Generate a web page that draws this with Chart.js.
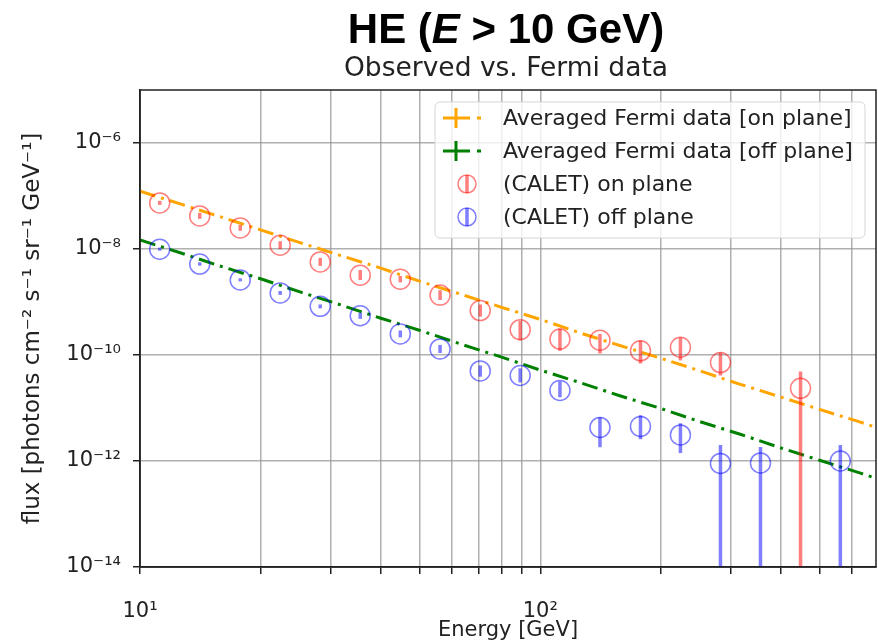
<!DOCTYPE html>
<html>
<head>
<meta charset="utf-8">
<script src="https://cdn.jsdelivr.net/npm/chart.js@4.4.0/dist/chart.umd.min.js"></script>
<style>
    html, body { margin: 0; padding: 0; background: #fff; }
    #wrap { width: 878px; height: 643px; }
</style>
</head>
<body>
<div id="wrap"><canvas id="fluxChart" width="878" height="643"></canvas></div>
<script>
// Averaged Fermi data (GeV, flux)
const fermiEnergy = [10, 12.6, 15.8, 20, 25.1, 31.6, 39.8, 50.1, 63.1, 79.4, 100, 126, 158, 200, 251, 316, 398, 501, 631, 794];
const fermiOnFlux = [1.23e-7, 7.1e-8, 4.1e-8, 2.3e-8, 1.32e-8, 7.6e-9, 4.4e-9, 2.45e-9, 1.41e-9, 8.1e-10, 4.7e-10, 2.6e-10, 1.51e-10, 8.7e-11, 5.0e-11, 2.8e-11, 1.62e-11, 9.3e-12, 5.4e-12, 3.0e-12];
const fermiOffFlux = [1.48e-8, 8.5e-9, 4.8e-9, 2.75e-9, 1.55e-9, 8.9e-10, 5.0e-10, 2.9e-10, 1.62e-10, 9.3e-11, 5.2e-11, 3.0e-11, 1.70e-11, 9.8e-12, 5.5e-12, 3.2e-12, 1.78e-12, 1.02e-12, 5.9e-13, 3.3e-13];

// CALET on plane
const caletOnEnergy = [11.2, 14.1, 17.8, 22.4, 28.2, 35.5, 44.7, 56.2, 70.8, 89.1, 112, 141, 178, 224, 282, 447];
const caletOnFlux = [7.4e-8, 4.2e-8, 2.5e-8, 1.18e-8, 5.7e-9, 3.2e-9, 2.7e-9, 1.35e-9, 6.9e-10, 3.0e-10, 2.0e-10, 1.9e-10, 1.2e-10, 1.4e-10, 7.2e-11, 2.35e-11];
const caletOnLow = [6.8e-8, 3.7e-8, 2.2e-8, 9.9e-9, 4.8e-9, 2.6e-9, 2.35e-9, 1.09e-9, 5.3e-10, 1.9e-10, 1.2e-10, 1.07e-10, 6.9e-11, 7.9e-11, 4.1e-11, 1e-16];
const caletOnHigh = [8.1e-8, 4.8e-8, 2.85e-8, 1.4e-8, 6.8e-9, 4.0e-9, 3.1e-9, 1.67e-9, 9.0e-10, 4.4e-10, 3.15e-10, 2.5e-10, 1.87e-10, 2.13e-10, 1.11e-10, 4.9e-11];

// CALET off plane
const caletOffEnergy = [11.2, 14.1, 17.8, 22.4, 28.2, 35.5, 44.7, 56.2, 70.8, 89.1, 112, 141, 178, 224, 282, 355, 562];
const caletOffFlux = [9.9e-9, 5.2e-9, 2.6e-9, 1.48e-9, 8.3e-10, 5.5e-10, 2.5e-10, 1.3e-10, 5.0e-11, 4.1e-11, 2.15e-11, 4.3e-12, 4.5e-12, 3.1e-12, 9.0e-13, 9.2e-13, 1.0e-12];
const caletOffLow = [9.3e-9, 4.85e-9, 2.45e-9, 1.36e-9, 7.6e-10, 4.8e-10, 2.15e-10, 1.09e-10, 3.9e-11, 3.04e-11, 1.59e-11, 1.82e-12, 2.58e-12, 1.41e-12, 1e-16, 1e-16, 1e-16];
const caletOffHigh = [1.06e-8, 5.6e-9, 2.8e-9, 1.61e-9, 9.0e-10, 6.3e-10, 2.9e-10, 1.55e-10, 6.35e-11, 5.6e-11, 3.18e-11, 6.7e-12, 7.3e-12, 5.15e-12, 2.0e-12, 1.83e-12, 2.0e-12];

// axes
const xGridValues = [10, 20, 30, 40, 50, 60, 70, 80, 90, 100, 200, 300, 400, 500, 600];
const xLabelValues = [10, 100];
const xLabelText = ['10¹', '10²'];
const yTickValues = [1e-14, 1e-12, 1e-10, 1e-8, 1e-6];
const yTickText = ['10⁻¹⁴', '10⁻¹²', '10⁻¹⁰', '10⁻⁸', '10⁻⁶'];

const ORANGE = '#ffa500';
const GREEN = '#008000';
const RED_A = 'rgba(255, 0, 0, 0.5)';
const BLUE_A = 'rgba(0, 0, 255, 0.5)';
const DASHDOT = [16, 6, 3, 6];

const toPoints = (xs, ys) => xs.map((x, i) => ({ x: x, y: ys[i] }));

const errorSets = [
    { x: caletOnEnergy, low: caletOnLow, high: caletOnHigh, color: RED_A },
    { x: caletOffEnergy, low: caletOffLow, high: caletOffHigh, color: BLUE_A }
];

const errorBarPlugin = {
    id: 'errorBars',
    afterDatasetsDraw(chart) {
        const { ctx, chartArea, scales } = chart;
        ctx.save();
        ctx.beginPath();
        ctx.rect(chartArea.left, chartArea.top, chartArea.width, chartArea.height);
        ctx.clip();
        ctx.lineWidth = 3.5;
        errorSets.forEach(set => {
            ctx.strokeStyle = set.color;
            set.x.forEach((e, i) => {
                const px = scales.x.getPixelForValue(e);
                ctx.beginPath();
                ctx.moveTo(px, scales.y.getPixelForValue(set.low[i]));
                ctx.lineTo(px, scales.y.getPixelForValue(set.high[i]));
                ctx.stroke();
            });
        });
        ctx.restore();
    }
};

const framePlugin = {
    id: 'frame',
    afterDatasetsDraw(chart) {
        const { ctx, chartArea } = chart;
        ctx.save();
        ctx.strokeStyle = '#222';
        ctx.lineWidth = 1.5;
        ctx.strokeRect(chartArea.left, chartArea.top, chartArea.width, chartArea.height);
        ctx.restore();
    }
};

const titlePlugin = {
    id: 'mplTitle',
    afterDraw(chart) {
        const { ctx, chartArea } = chart;
        const cx = (chartArea.left + chartArea.right) / 2 - 2;
        const parts = [
            { t: 'HE (', f: 'bold 42px "Liberation Sans", Arial, sans-serif' },
            { t: 'E', f: 'italic bold 42px "Liberation Sans", Arial, sans-serif' },
            { t: ' > 10 GeV)', f: 'bold 42px "Liberation Sans", Arial, sans-serif' }
        ];
        ctx.save();
        ctx.fillStyle = '#000';
        ctx.textBaseline = 'alphabetic';
        ctx.textAlign = 'left';
        let total = 0;
        parts.forEach(p => { ctx.font = p.f; p.w = ctx.measureText(p.t).width; total += p.w; });
        let x = cx - total / 2;
        parts.forEach(p => { ctx.font = p.f; ctx.fillText(p.t, x, 43); x += p.w; });
        ctx.font = '26.5px "DejaVu Sans", sans-serif';
        ctx.fillStyle = '#222';
        ctx.textAlign = 'center';
        ctx.fillText('Observed vs. Fermi data', cx, 76);
        ctx.restore();
    }
};

const legendItems = [
    { label: 'Averaged Fermi data [on plane]', kind: 'line', color: ORANGE },
    { label: 'Averaged Fermi data [off plane]', kind: 'line', color: GREEN },
    { label: '(CALET) on plane', kind: 'circle', color: RED_A },
    { label: '(CALET) off plane', kind: 'circle', color: BLUE_A }
];

const legendPlugin = {
    id: 'insideLegend',
    afterDraw(chart) {
        const { ctx, chartArea } = chart;
        const right = chartArea.right - 11;
        const left = right - 430;
        const top = chartArea.top + 12;
        const h = 136;
        ctx.save();
        ctx.beginPath();
        ctx.roundRect(left, top, right - left, h, 5);
        ctx.fillStyle = 'rgba(255, 255, 255, 0.8)';
        ctx.fill();
        ctx.strokeStyle = '#d6d6d6';
        ctx.lineWidth = 1;
        ctx.stroke();
        ctx.font = '22px "DejaVu Sans", sans-serif';
        ctx.textBaseline = 'middle';
        ctx.fillStyle = '#222';
        legendItems.forEach((item, i) => {
            const y = top + 16 + i * 33;
            if (item.kind === 'line') {
                ctx.strokeStyle = item.color;
                ctx.lineWidth = 3;
                ctx.beginPath();
                ctx.moveTo(left + 8, y);
                ctx.lineTo(left + 35, y);
                ctx.moveTo(left + 21, y - 10);
                ctx.lineTo(left + 21, y + 10);
                ctx.moveTo(left + 42, y);
                ctx.lineTo(left + 46, y);
                ctx.stroke();
            } else {
                ctx.strokeStyle = item.color;
                ctx.lineWidth = 1.5;
                ctx.beginPath();
                ctx.arc(left + 32, y, 9, 0, Math.PI * 2);
                ctx.stroke();
                ctx.lineWidth = 3.5;
                ctx.beginPath();
                ctx.moveTo(left + 32, y - 9);
                ctx.lineTo(left + 32, y + 9);
                ctx.stroke();
            }
            ctx.fillText(item.label, left + 68, y + 1);
        });
        ctx.restore();
    }
};

const tickFont = { family: 'DejaVu Sans', size: 21 };
const gridStyle = {
    display: true,
    color: 'rgba(150, 150, 150, 0.75)',
    lineWidth: 1.5,
    drawTicks: true,
    tickLength: 7,
    tickColor: '#222'
};

new Chart(document.getElementById('fluxChart').getContext('2d'), {
    type: 'scatter',
    data: {
        datasets: [
            {
                label: 'Averaged Fermi data [on plane]',
                data: toPoints(fermiEnergy, fermiOnFlux),
                showLine: true,
                borderColor: ORANGE,
                borderWidth: 3,
                borderDash: DASHDOT,
                pointRadius: 0,
                clip: 0,
                order: 3
            },
            {
                label: 'Averaged Fermi data [off plane]',
                data: toPoints(fermiEnergy, fermiOffFlux),
                showLine: true,
                borderColor: GREEN,
                borderWidth: 3,
                borderDash: DASHDOT,
                pointRadius: 0,
                clip: 0,
                order: 3
            },
            {
                label: '(CALET) on plane',
                data: toPoints(caletOnEnergy, caletOnFlux),
                pointRadius: 10,
                pointBorderWidth: 1.5,
                borderColor: RED_A,
                backgroundColor: 'rgba(0,0,0,0)',
                order: 1
            },
            {
                label: '(CALET) off plane',
                data: toPoints(caletOffEnergy, caletOffFlux),
                pointRadius: 10,
                pointBorderWidth: 1.5,
                borderColor: BLUE_A,
                backgroundColor: 'rgba(0,0,0,0)',
                order: 1
            }
        ]
    },
    options: {
        responsive: false,
        animation: false,
        layout: { autoPadding: false, padding: { top: 90, right: 2, bottom: 0, left: 0 } },
        plugins: {
            legend: { display: false },
            tooltip: { enabled: false }
        },
        scales: {
            x: {
                type: 'logarithmic',
                min: 10,
                max: 690,
                grid: gridStyle,
                border: { display: true, color: '#222', width: 1.5 },
                afterBuildTicks: scale => { scale.ticks = xGridValues.map(v => ({ value: v })); },
                afterFit: scale => {
                    scale.height = 76;
                    scale.paddingLeft = 0;
                    scale.paddingRight = 0;
                },
                ticks: {
                    autoSkip: false,
                    maxRotation: 0,
                    padding: 25,
                    color: '#222',
                    font: tickFont,
                    callback: v => {
                        const k = xLabelValues.indexOf(v);
                        return k >= 0 ? xLabelText[k] : '';
                    }
                },
                title: {
                    display: true,
                    text: 'Energy [GeV]',
                    color: '#222',
                    font: { family: 'DejaVu Sans', size: 21 },
                    padding: { top: 0, bottom: 0 }
                }
            },
            y: {
                type: 'logarithmic',
                min: 1e-14,
                max: 1e-5,
                grid: gridStyle,
                border: { display: true, color: '#222', width: 1.5 },
                afterBuildTicks: scale => { scale.ticks = yTickValues.map(v => ({ value: v })); },
                afterFit: scale => {
                    scale.width = 140;
                    scale.paddingTop = 0;
                    scale.paddingBottom = 0;
                },
                ticks: {
                    autoSkip: false,
                    padding: 12,
                    color: '#222',
                    font: tickFont,
                    callback: v => {
                        const k = yTickValues.indexOf(v);
                        return k >= 0 ? yTickText[k] : '';
                    }
                },
                title: {
                    display: true,
                    text: 'flux [photons cm⁻² s⁻¹ sr⁻¹ GeV⁻¹]',
                    color: '#222',
                    font: { family: 'DejaVu Sans', size: 23 },
                    padding: { top: 19, bottom: 0 }
                }
            }
        }
    },
    plugins: [errorBarPlugin, framePlugin, titlePlugin, legendPlugin]
});
</script>
